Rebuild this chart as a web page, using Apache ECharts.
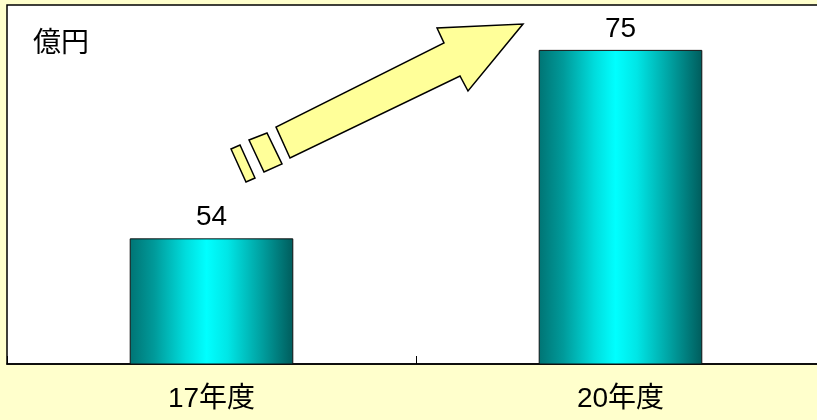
<!DOCTYPE html>
<html>
<head>
<meta charset="utf-8">
<script src="https://cdn.jsdelivr.net/npm/echarts@6/dist/echarts.min.js"></script>
<style>
  html, body { margin: 0; padding: 0; background: #FFFFCC; }
  #chart { width: 817px; height: 420px; }
</style>
</head>
<body>
<div id="chart"></div>
<script>
// Fiscal years and amounts (unit: 億円)
const categories = ['17年度', '20年度'];
const values = [54, 75];
const unitLabel = '億円';

const FONT = '"Liberation Sans", Arial, "Noto Sans CJK JP", sans-serif';

// Teal cylinder-like shading across each bar
const barGradient = new echarts.graphic.LinearGradient(0, 0, 1, 0, [
  { offset: 0, color: '#007474' },
  { offset: 0.15, color: '#009A9A' },
  { offset: 0.34, color: '#00DCDC' },
  { offset: 0.47, color: '#00FFFF' },
  { offset: 0.6, color: '#00E6E6' },
  { offset: 0.8, color: '#00A2A2' },
  { offset: 1, color: '#005C5C' }
]);

// Growth arrow and its trailing dashes, drawn as decoration
const arrowStyle = { fill: '#FFFF99', stroke: '#000', lineWidth: 1.5 };
const decorations = [
  {
    type: 'polygon',
    shape: { points: [[290, 158], [276, 127], [444, 43], [437, 28], [523, 24], [468, 91], [460, 76]] },
    style: arrowStyle, z: 100
  },
  {
    type: 'polygon',
    shape: { points: [[249, 140], [267, 133], [282, 164], [264, 172]] },
    style: arrowStyle, z: 100
  },
  {
    type: 'polygon',
    shape: { points: [[231, 149], [240, 145], [255, 178], [246, 182]] },
    style: arrowStyle, z: 100
  }
];

const chart = echarts.init(document.getElementById('chart'), null, { renderer: 'canvas' });
chart.setOption({
  backgroundColor: '#FFFFCC',
  animation: false,
  title: {
    text: unitLabel,
    left: 28,
    top: 25,
    textStyle: { fontFamily: FONT, fontSize: 28, fontWeight: 'normal', color: '#000' }
  },
  grid: {
    left: 7, top: 5, width: 818, height: 359,
    outerBoundsMode: 'none',
    containLabel: false,
    show: true,
    backgroundColor: '#FFFFFF',
    borderColor: '#000',
    borderWidth: 1.5
  },
  xAxis: {
    type: 'category',
    data: categories,
    axisLine: { lineStyle: { color: '#000', width: 1.5 } },
    axisTick: { show: true, inside: true, length: 8, alignWithLabel: false, lineStyle: { color: '#000', width: 1 } },
    axisLabel: { fontFamily: FONT, fontSize: 28, color: '#000', margin: 21 }
  },
  yAxis: {
    type: 'value',
    min: 40,
    max: 80,
    show: false,
    splitLine: { show: false }
  },
  series: [{
    type: 'bar',
    data: values,
    barWidth: '40%',
    itemStyle: { color: barGradient, borderColor: '#111', borderWidth: 1 },
    label: {
      show: true,
      position: 'top',
      distance: 7,
      fontFamily: FONT,
      fontSize: 28,
      color: '#000'
    }
  }],
  graphic: decorations
});
</script>
</body>
</html>
